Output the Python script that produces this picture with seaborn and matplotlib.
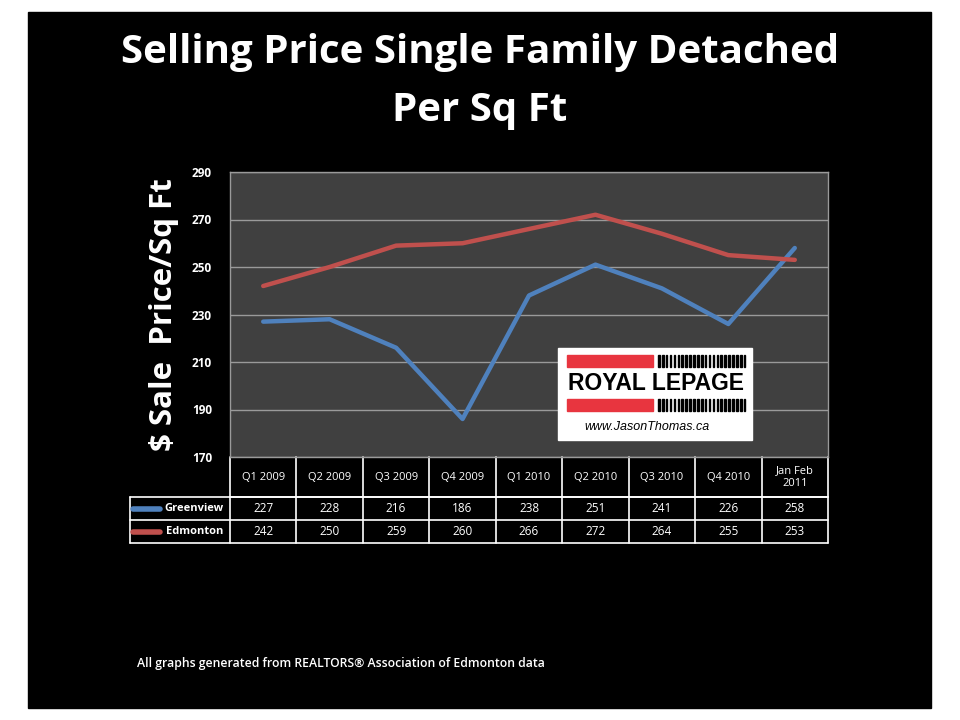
import matplotlib
matplotlib.use("Agg")
import matplotlib.pyplot as plt
import matplotlib.patches as mpatches
import seaborn as sns
import pandas as pd

quarters = ["Q1 2009", "Q2 2009", "Q3 2009", "Q4 2009", "Q1 2010",
            "Q2 2010", "Q3 2010", "Q4 2010", "Jan Feb\n2011"]
greenview = [227, 228, 216, 186, 238, 251, 241, 226, 258]
edmonton = [242, 250, 259, 260, 266, 272, 264, 255, 253]
series_names = ["Greenview", "Edmonton"]
series_colors = ["#4F81BD", "#C0504D"]
y_ticks = [170, 190, 210, 230, 250, 270, 290]

df = pd.DataFrame({
    "pos": list(range(len(quarters))) * 2,
    "value": greenview + edmonton,
    "series": [series_names[0]] * len(quarters) + [series_names[1]] * len(quarters),
})

sns.set_style("dark")
plt.rcParams["font.family"] = ["Open Sans", "DejaVu Sans"]

W, H = 960, 720
fig = plt.figure(figsize=(9.6, 7.2), dpi=100)
fig.patch.set_facecolor("white")

# black slide background
fig.add_artist(mpatches.Rectangle((28 / W, 1 - 708 / H), 903 / W, 696 / H,
                                  transform=fig.transFigure, color="black", zorder=0))

ax = fig.add_axes([230 / W, 1 - 457 / H, 598 / W, 285 / H])
ax.set_facecolor("#404040")
sns.lineplot(data=df, x="pos", y="value", hue="series", palette=series_colors,
             linewidth=3.2, legend=False, ax=ax)
ax.set_xlim(-0.5, len(quarters) - 0.5)
ax.set_ylim(170, 290)
ax.set_yticks(y_ticks)
ax.set_xticks([])
ax.yaxis.grid(True, color="#9a9a9a", linewidth=1)
ax.xaxis.grid(False)
for s in ax.spines.values():
    s.set_visible(True)
    s.set_color("#9a9a9a")
    s.set_linewidth(1)
ax.tick_params(axis="y", colors="white", labelsize=8.5, length=0, pad=13)
for lbl in ax.get_yticklabels():
    lbl.set_fontweight("bold")
ax.set_xlabel("")
ax.set_ylabel("$ Sale  Price/Sq Ft", color="white", fontsize=22.5, fontweight="bold",
              labelpad=9)

# data table below the axes
tr = ax.get_xaxis_transform()
hpx = 285.0
row_edges = [0, -40 / hpx, -63 / hpx, -86 / hpx]
left = -0.5 - 100 / (598 / len(quarters))
right = len(quarters) - 0.5
lk = dict(color="white", linewidth=1.2, transform=tr, clip_on=False)
# header row lines
ax.plot([-0.5, right], [row_edges[1]] * 2, **lk)
ax.plot([-0.5, -0.5], [row_edges[0], row_edges[3]], **lk)
for i in range(len(quarters)):
    ax.plot([i + 0.5, i + 0.5], [row_edges[0], row_edges[3]], **lk)
    ax.text(i, (row_edges[0] + row_edges[1]) / 2, quarters[i], transform=tr,
            ha="center", va="center", color="white", fontsize=8, linespacing=1.3)
for y in row_edges[1:]:
    ax.plot([left, right], [y, y], **lk)
ax.plot([left, left], [row_edges[1], row_edges[3]], **lk)
for r, (name, vals, col) in enumerate(zip(series_names, [greenview, edmonton], series_colors)):
    yc = (row_edges[r + 1] + row_edges[r + 2]) / 2
    ax.plot([left + 0.05, left + 0.45], [yc, yc], color=col, linewidth=4,
            solid_capstyle="round", transform=tr, clip_on=False)
    ax.text(-0.6, yc, name, transform=tr, ha="right", va="center", color="white",
            fontsize=8, fontweight="bold")
    for i, v in enumerate(vals):
        ax.text(i, yc, str(v), transform=tr, ha="center", va="center",
                color="white", fontsize=8.5)

# title
fig.text(0.5, 1 - 53 / H, "Selling Price Single Family Detached", ha="center", va="center",
         color="white", fontsize=29, fontweight="bold")
fig.text(0.5, 1 - 110 / H, "Per Sq Ft", ha="center", va="center",
         color="white", fontsize=29, fontweight="bold")

# logo box
def fbox(x0, y0, x1, y1, **kw):
    fig.add_artist(mpatches.Rectangle((x0 / W, 1 - y1 / H), (x1 - x0) / W, (y1 - y0) / H,
                                      transform=fig.transFigure, **kw))

fbox(558, 348, 752, 440, color="white", zorder=5)
fbox(567, 355, 653, 367, color="#E8353F", zorder=6)
fbox(567, 399, 653, 411, color="#E8353F", zorder=6)
for k in range(23):
    x = 658 + k * 3.9
    fbox(x, 355, x + 1.6, 367, color="black", zorder=6)
    fbox(x, 399, x + 1.6, 411, color="black", zorder=6)
fig.text(656 / W, 1 - 383 / H, "ROYAL LEPAGE", ha="center", va="center", color="black",
         fontsize=16.5, fontweight="bold", zorder=7, family=["Liberation Sans", "DejaVu Sans"])
fig.text(647 / W, 1 - 427 / H, "www.JasonThomas.ca", ha="center", va="center", color="black",
         fontsize=9, style="italic", zorder=7, family=["Liberation Sans", "DejaVu Sans"])

# footer
fig.text(137 / W, 1 - 663 / H, "All graphs generated from REALTORS\u00ae Association of Edmonton data",
         ha="left", va="center", color="white", fontsize=8.8, fontweight="semibold")

fig.savefig("out.png", dpi=100, facecolor=fig.get_facecolor())
